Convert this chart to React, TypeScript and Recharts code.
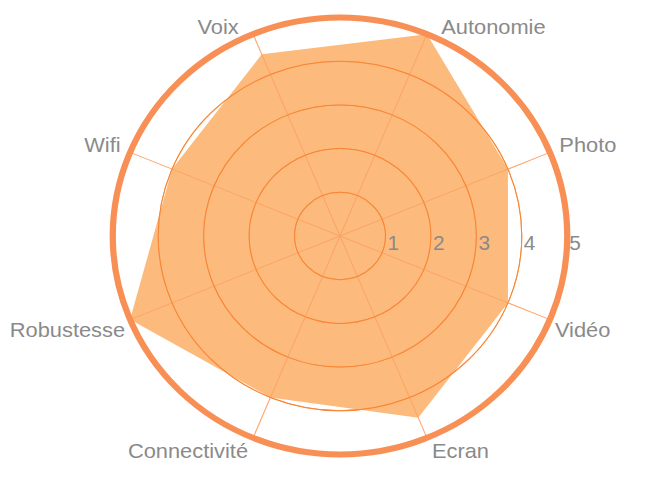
import * as React from "react"
import {
  RadarChart,
  Radar,
  PolarGrid,
  PolarAngleAxis,
  PolarRadiusAxis,
} from "recharts"

// one score per feature, clockwise from Autonomie
const features = [
  "Autonomie",
  "Photo",
  "Vidéo",
  "Ecran",
  "Connectivité",
  "Robustesse",
  "Wifi",
  "Voix",
]
const scores = [5, 4, 4, 4.5, 4, 5, 4, 4.5]
const scaleTicks = [0, 1, 2, 3, 4, 5]

const data = features.map((feature, i) => ({ feature, score: scores[i] }))

const W = 645
const H = 484
const CX = 340
const CY = 236
const R = 218.5
// the reference is a bit wider than tall
const STRETCH = 1.04

const FONT = "'Liberation Sans', Arial, Helvetica, sans-serif"
const LABEL = "#8a8a8a"

const layer: React.CSSProperties = {
  position: "absolute",
  left: 0,
  top: 0,
  width: W,
  height: H,
}

function FeatureTick(props: any) {
  const { payload } = props
  const rad = (payload.coordinate * Math.PI) / 180
  const dx = Math.cos(rad)
  const dy = -Math.sin(rad)
  const ex = CX + R * dx
  const ey = CY + R * dy
  const side = dx >= 0 ? 1 : -1
  const upper = dy < 0
  const ox = (side * (upper ? 6 + 9 * Math.abs(dy) : 5)) / STRETCH
  const oy = upper ? -7 : 9 + 5 * Math.abs(dy)
  return (
    <text
      x={ex + ox}
      y={ey + oy}
      textAnchor={side > 0 ? "start" : "end"}
      dominantBaseline="central"
      fill={LABEL}
      fontSize={21}
      fontFamily={FONT}
    >
      {payload.value}
    </text>
  )
}

function ScaleTick(props: any) {
  const { x, y, payload } = props
  if (payload.value === 0) return null
  return (
    <text
      x={x + 2}
      y={y + 7}
      textAnchor="start"
      dominantBaseline="central"
      fill={LABEL}
      fontSize={20}
      fontFamily={FONT}
    >
      {payload.value}
    </text>
  )
}

// shared geometry for both layers
const chartProps = {
  width: W,
  height: H,
  data,
  cx: CX,
  cy: CY,
  outerRadius: R,
  startAngle: 67.5,
  endAngle: -292.5,
  margin: { top: 0, right: 0, bottom: 0, left: 0 },
}

export default function App() {
  return (
    <div
      style={{
        ...layer,
        background: "#fff",
        transform: `scaleX(${STRETCH})`,
        transformOrigin: `${CX}px ${CY}px`,
      }}
    >
      {/* filled area underneath */}
      <div style={layer}>
        <RadarChart {...chartProps}>
          <PolarRadiusAxis domain={[0, 5]} tick={false} axisLine={false} />
          <PolarAngleAxis dataKey="feature" tick={false} axisLine={false} tickLine={false} />
          <Radar
            dataKey="score"
            fill="#fdba7d"
            fillOpacity={1}
            stroke="none"
            isAnimationActive={false}
          />
        </RadarChart>
      </div>
      {/* grid, rings and labels on top */}
      <div style={layer}>
        <RadarChart {...chartProps}>
          <PolarGrid gridType="circle" stroke="#fca468" strokeWidth={1} />
          <PolarGrid gridType="circle" radialLines={false} stroke="#f88532" strokeWidth={1} />
          <PolarRadiusAxis
            angle={0}
            domain={[0, 5]}
            ticks={scaleTicks as any}
            tickCount={6}
            axisLine={false}
            tickLine={false}
            tick={<ScaleTick />}
          />
          <PolarAngleAxis
            dataKey="feature"
            axisLineType="circle"
            axisLine={{ stroke: "#f88f55", strokeWidth: 6 }}
            tickLine={false}
            tick={<FeatureTick />}
          />
          {/* invisible copy so the radius axis gets its scale */}
          <Radar
            dataKey="score"
            fill="none"
            fillOpacity={0}
            stroke="none"
            isAnimationActive={false}
          />
        </RadarChart>
      </div>
    </div>
  )
}
